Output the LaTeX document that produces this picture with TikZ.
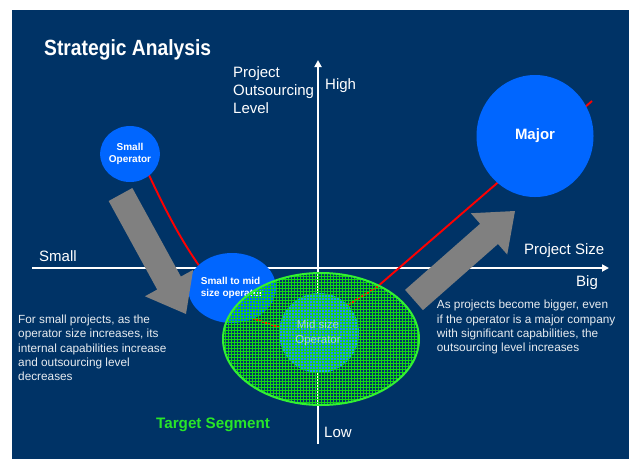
\documentclass[tikz,border=0pt]{standalone}
\usepackage{fontspec}
\usepackage{graphicx}
\setmainfont{Liberation Sans}
\usetikzlibrary{arrows.meta,shapes.geometric}

\definecolor{panel}{RGB}{0,51,102}
\definecolor{opblue}{RGB}{0,102,255}
\definecolor{midblue}{RGB}{30,140,255}
\definecolor{hatchgreen}{RGB}{20,215,20}
\definecolor{rimgreen}{RGB}{50,240,50}
\definecolor{seggreen}{RGB}{40,230,40}
\definecolor{notetext}{RGB}{232,236,240}
\definecolor{movegray}{RGB}{128,128,128}

\begin{document}
\begin{tikzpicture}[x=1pt,y=-1pt,
  axisline/.style={white, line width=2pt, -{Triangle[length=7pt,width=7pt]}},
  operator/.style={ellipse, fill=opblue, inner sep=0pt, text=white,
    font=\bfseries\fontsize{10}{11.6}\selectfont},
  axislabel/.style={anchor=base west, inner sep=0pt, text=white,
    font=\fontsize{15}{18}\selectfont},
  notebox/.style={anchor=base west, inner sep=0pt, text=notetext,
    font=\fontsize{11.8}{14.4}\selectfont},
  trend/.style={red, line width=1.9pt, line join=round},
  movearrow/.style={fill=movegray},
  hatchline/.style={hatchgreen, line width=1pt}
]
\useasboundingbox (0,0) rectangle (629,459);
\fill[white] (0,0) rectangle (629,459);
\fill[panel] (12,10) rectangle (629,459);

% title
\node[anchor=base west, inner sep=0pt, text=white,
  font=\bfseries\fontsize{22}{26}\selectfont] (title) at (44,55)
  {\scalebox{0.875}[1]{Strategic Analysis}};

% axes
\coordinate (xl) at (32,268);
\coordinate (xr) at (609,268);
\coordinate (yb) at (318,444);
\coordinate (yt) at (318,60);
\draw[axisline] (xl) -- (xr);
\draw[axisline] (yb) -- (yt);

% axis labels
\node[axislabel] (ylab) at (233,77.7)
  {\parbox[t]{100pt}{\raggedright Project\\Outsourcing\\Level}};
\node[axislabel] (high) at (325,89) {High};
\node[axislabel] (low) at (324,437.7) {Low};
\node[axislabel] (smalllab) at (39,261.5) {Small};
\node[axislabel] (sizelab) at (524,254.3) {Project Size};
\node[axislabel] (biglab) at (576,286.5) {Big};

% trend line through the operators
\coordinate (t0) at (148,173);
\coordinate (t1) at (200,267);
\coordinate (t2) at (252,318);
\coordinate (t3) at (278,327);
\coordinate (t4) at (348,305);
\coordinate (t5) at (377,287);
\coordinate (t6) at (592,101);
\draw[trend] (t0) .. controls (165,209) and (179,237) .. (t1)
  -- (t2) -- (t3) -- (t4) -- (t5) -- (t6);

% operators
\node[operator, minimum width=50pt, minimum height=56pt, align=center]
  (small) at (130,154) {Small\\Operator};
\node[operator, minimum width=70pt, minimum height=70pt, align=left]
  (smallmid) at (232,288) {Small to mid\\size operator};
\node[circle, fill=midblue, minimum size=80pt, inner sep=0pt]
  (mid) at (319,333) {};
\node[operator, minimum width=117pt, minimum height=122pt,
  font=\bfseries\fontsize{15}{18}\selectfont] (major) at (535,136) {Major};

% movement arrows
\fill[movearrow] (108.66,200.99) -- (157.2,289.55) -- (144.93,296.28)
  -- (186,314) -- (193.15,269.84) -- (180.88,276.57) -- (132.34,188.01) -- cycle;
\fill[movearrow] (405.07,289.87) -- (480.11,223.75) -- (470.86,213.24)
  -- (515,211) -- (507.22,254.52) -- (497.97,244.01) -- (422.93,310.13) -- cycle;

% notes
\node[notebox] (leftnote) at (18,323.3)
  {\parbox[t]{180pt}{\raggedright For small projects, as the\\
   operator size increases, its\\internal capabilities increase\\
   and outsourcing level\\decreases}};
\node[notebox] (rightnote) at (436.7,308.7)
  {\parbox[t]{190pt}{\raggedright As projects become bigger, even\\
   if the operator is a major company\\with significant capabilities, the\\
   outsourcing level increases}};

% target segment: cross-hatched ellipse
\begin{scope}
  \clip (321,339) ellipse [x radius=98pt, y radius=66pt];
  \foreach \gx in {222,225,...,420}
    \draw[hatchline] (\gx,272) -- (\gx,406);
  \foreach \gy in {273,276,...,405}
    \draw[hatchline] (222,\gy) -- (420,\gy);
\end{scope}
\draw[rimgreen, line width=2pt] (321,339) ellipse [x radius=98pt, y radius=66pt];
\node[text=white, opacity=0.6, align=center, inner sep=0pt,
  font=\fontsize{11.5}{15}\selectfont] (midlabel) at (318,333) {Mid size\\Operator};

\node[anchor=base west, inner sep=0pt, text=seggreen,
  font=\bfseries\fontsize{15.2}{18}\selectfont] (segment) at (156,428.3) {Target Segment};
\end{tikzpicture}
\end{document}
